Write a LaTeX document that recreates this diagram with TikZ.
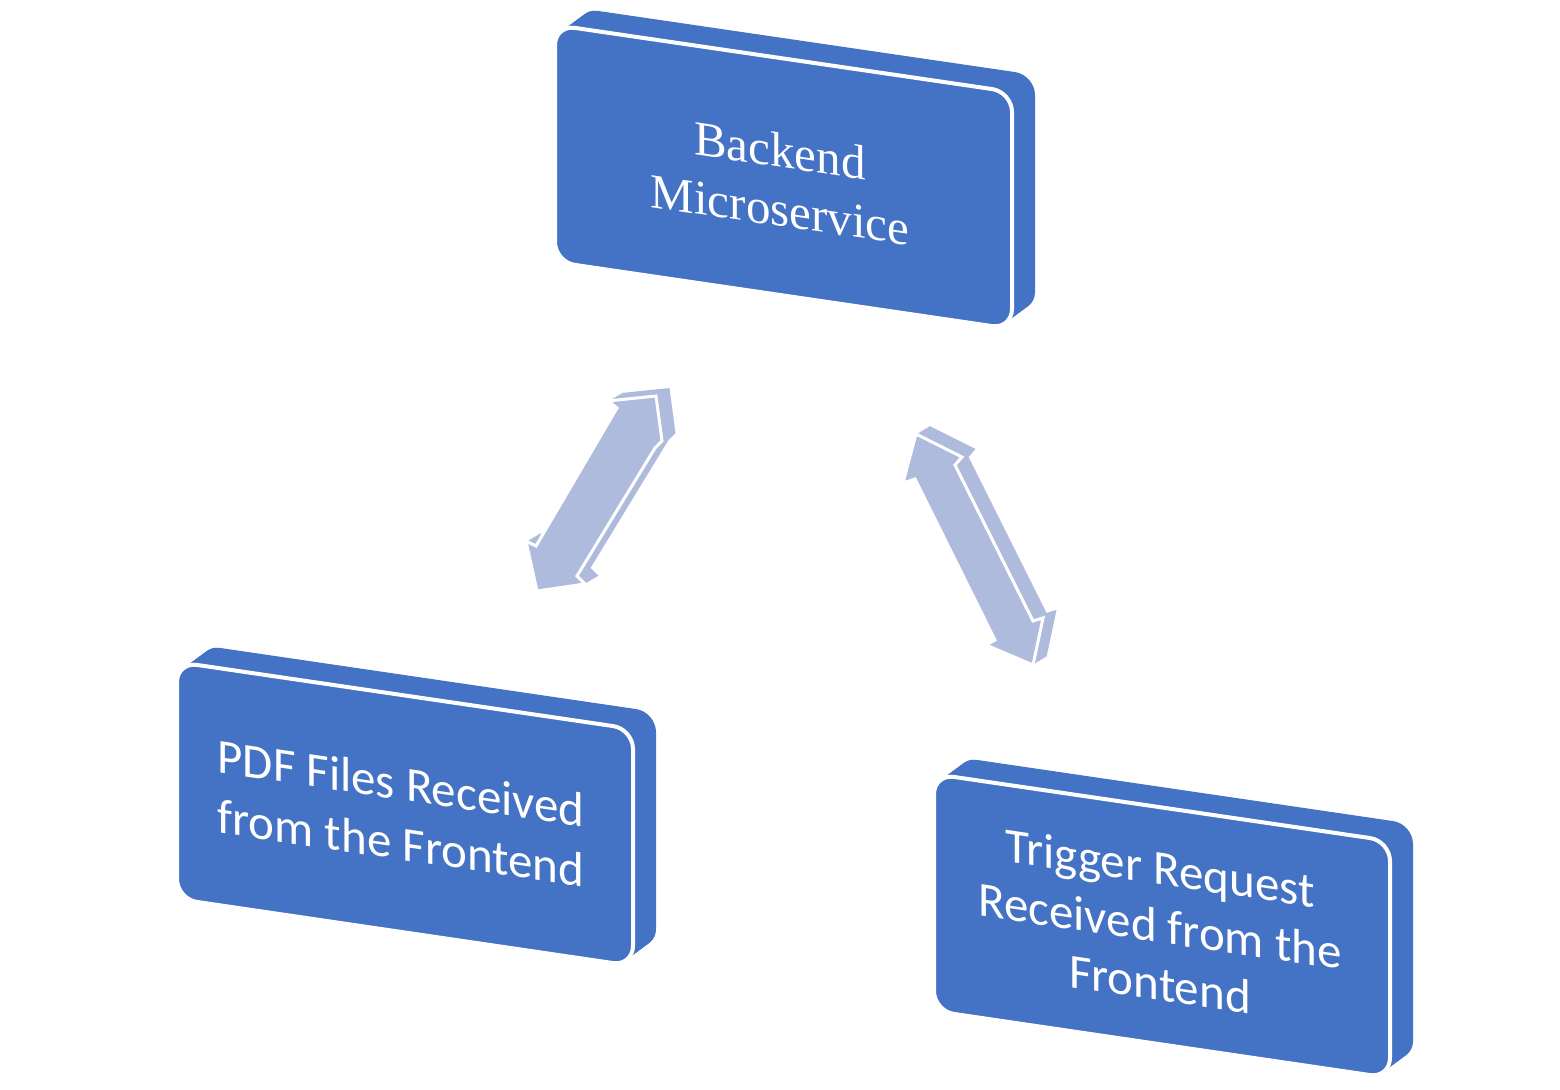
\documentclass[tikz,border=0pt]{standalone}
\usepackage{fontspec}
\newfontfamily\serifT{Liberation Serif}
\newfontfamily\sansC{Carlito}
\definecolor{boxblue}{HTML}{4472C4}
\definecolor{arrblue}{HTML}{AEBBDD}
\newcommand\solidbox[5]{%
  \foreach \i in {10,9,...,1}{%
    \fill[depthbox, shift={(2.3*\i,-1.7*\i)}] (#1,#2) -- (#3,#4) -- (#3,#4+#5) -- (#1,#2+#5) -- cycle;}
  \path[frontbox] (#1,#2) -- (#3,#4) -- (#3,#4+#5) -- (#1,#2+#5) -- cycle;}
\newcommand\solidarrow[1]{%
  \foreach \i in {10,9,...,1}{%
    \fill[deptharrow, shift={(1.35*\i,-0.8*\i)}] #1;}
  \path[frontarrow] #1;}
\begin{document}
\begin{tikzpicture}[x=0.5pt,y=-0.5pt,
  frontbox/.style={fill=boxblue, draw=white, line width=2pt, rounded corners=10pt, line join=round},
  depthbox/.style={fill=boxblue, rounded corners=10pt},
  frontarrow/.style={fill=arrblue, draw=white, line width=1.5pt, line join=miter},
  deptharrow/.style={fill=arrblue},
  boxlabel/.style={text=white, align=center, inner sep=0pt, transform shape}]
\useasboundingbox (0,0) rectangle (1560,1090);

% boxes
\solidbox{555}{25}{1012}{92}{237}
\solidbox{177}{662}{633}{729}{237}
\solidbox{934}{774}{1390}{841}{237}

% arrows
\solidarrow{(537,591) -- (526,541) -- (536,546) -- (617,408) -- (608,401) -- (656,396) -- (662,441) -- (655,448) -- (577,576) -- (585,584) -- cycle}
\solidarrow{(916,434) -- (903,483) -- (915,479) -- (995,640) -- (986,645) -- (1033,665) -- (1043,618) -- (1033,621) -- (955,465) -- (962,457) -- cycle}

% labels
\begin{scope}[shift={(780,180)}, yslant=-0.148]
  \node[boxlabel, font={\serifT\fontsize{24.5}{29.5}\selectfont}] (tback) at (0,0) {Backend\\Microservice};
\end{scope}
\begin{scope}[shift={(401,813)}, yslant=-0.148]
  \node[boxlabel, font={\sansC\fontsize{24.5}{30}\selectfont}] (tpdf) at (0,0) {PDF Files Received\\from the Frontend};
\end{scope}
\begin{scope}[shift={(1160,926)}, yslant=-0.148]
  \node[boxlabel, font={\sansC\fontsize{24.5}{29}\selectfont}] (ttrig) at (0,0) {Trigger Request\\Received from the\\Frontend};
\end{scope}
\end{tikzpicture}
\end{document}
